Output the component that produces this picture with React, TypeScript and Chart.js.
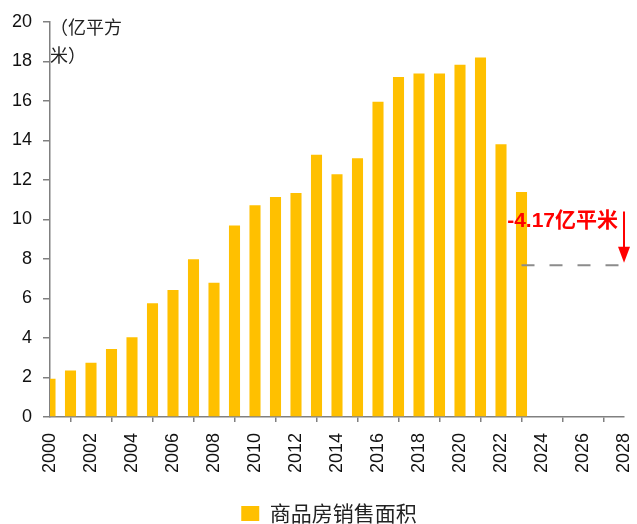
import React, { useEffect, useRef } from "react";
import { Chart, registerables } from "chart.js";

Chart.register(...registerables);

// ---- data ----
const years: string[] = [
  "2000", "2001", "2002", "2003", "2004", "2005", "2006", "2007", "2008", "2009",
  "2010", "2011", "2012", "2013", "2014", "2015", "2016", "2017", "2018", "2019",
  "2020", "2021", "2022", "2023", "2024", "2025", "2026", "2027", "2028",
];
const salesArea: (number | null)[] = [
  1.93, 2.35, 2.74, 3.44, 4.03, 5.76, 6.43, 7.98, 6.8, 9.69,
  10.71, 11.13, 11.34, 13.27, 12.29, 13.1, 15.95, 17.21, 17.38, 17.38,
  17.83, 18.19, 13.8, 11.39, null, null, null, null, null,
];
const forecastLevel: (number | null)[] = [
  null, null, null, null, null, null, null, null, null, null,
  null, null, null, null, null, null, null, null, null, null,
  null, null, null, 7.68, 7.68, 7.68, 7.68, 7.68, 7.68,
];
const seriesLabel = "商品房销售面积";
const unitLines = ["（亿平方", "米）"];
const annotationText = "-4.17亿平米";
const annotationValue = 9.9;
const arrowYear = "2028";
const arrowFrom = 10.4;
const arrowTo = 7.8;
const yMin = 0;
const yMax = 20;
const yStep = 2;

const CJK = '"Noto Sans CJK SC", "Noto Sans", sans-serif';
const LATIN = '"Liberation Sans", Arial, sans-serif';

const overlayPlugin = {
  id: "overlay",
  afterLayout(chart: any) {
    const lg = chart.legend;
    if (lg) {
      lg.left += 17;
      lg.right += 17;
    }
  },
  afterDatasetsDraw(chart: any) {
    const { ctx, scales } = chart;
    const x = scales.x;
    const y = scales.y;
    ctx.save();
    // unit label
    ctx.fillStyle = "#222";
    ctx.font = `18px ${CJK}`;
    ctx.textAlign = "left";
    ctx.textBaseline = "middle";
    ctx.fillText(unitLines[0], x.left, 27);
    ctx.fillText(unitLines[1], x.left, 55);

    // annotation arrow
    const ax = x.getPixelForValue(years.indexOf(arrowYear));
    const y1 = y.getPixelForValue(arrowFrom);
    const y2 = y.getPixelForValue(arrowTo);
    ctx.strokeStyle = "#FF0000";
    ctx.fillStyle = "#FF0000";
    ctx.lineWidth = 2;
    ctx.beginPath();
    ctx.moveTo(ax, y1);
    ctx.lineTo(ax, y2 - 14);
    ctx.stroke();
    ctx.beginPath();
    ctx.moveTo(ax - 6, y2 - 16);
    ctx.lineTo(ax + 6, y2 - 16);
    ctx.lineTo(ax, y2);
    ctx.closePath();
    ctx.fill();

    // annotation text
    ctx.font = `bold 21px "Liberation Sans", Arial, ${CJK}`;
    ctx.textAlign = "right";
    ctx.textBaseline = "middle";
    ctx.fillText(annotationText, ax - 6, y.getPixelForValue(annotationValue));
    ctx.restore();
  },
};

export default function App() {
  const canvasRef = useRef<HTMLCanvasElement | null>(null);

  useEffect(() => {
    document.body.style.margin = "0";
    const canvas = canvasRef.current;
    if (!canvas) return;
    const chart = new Chart(canvas, {
      type: "bar",
      data: {
        labels: years,
        datasets: [
          {
            type: "bar",
            label: seriesLabel,
            data: salesArea,
            backgroundColor: "#FFC000",
            borderWidth: 0,
            barPercentage: 0.54,
            categoryPercentage: 1,
            order: 2,
          },
          {
            type: "line",
            label: "forecast",
            data: forecastLevel,
            borderColor: "#8C8C8C",
            borderWidth: 2,
            borderDash: [13, 15],
            pointRadius: 0,
            fill: false,
            spanGaps: false,
            order: 1,
            clip: false as any,
          } as any,
        ],
      },
      options: {
        animation: false,
        responsive: false,
        maintainAspectRatio: false,
        layout: { padding: { top: 20, right: 13, left: 0, bottom: -10 } },
        plugins: {
          legend: {
            position: "bottom",
            labels: {
              filter: (item: any) => item.datasetIndex === 0,
              boxWidth: 18,
              boxHeight: 15,
              color: "#222",
              padding: 6,
              font: { family: CJK, size: 21 },
            },
          },
          tooltip: { enabled: false },
        },
        scales: {
          x: {
            type: "category",
            offset: false,
            grid: {
              drawOnChartArea: false,
              drawTicks: true,
              tickLength: 5,
              color: "#808080",
              lineWidth: 1.5,
            },
            border: { color: "#808080", width: 1.5 },
            ticks: {
              autoSkip: false,
              maxRotation: 90,
              minRotation: 90,
              padding: 11,
              color: "#111",
              font: { family: LATIN, size: 18 },
              callback: (_v: any, i: number) => (i % 2 === 0 ? years[i] : null),
            },
            afterFit: (s: any) => {
              s.height = 80;
              s.paddingLeft = 0;
              s.paddingRight = 0;
            },
          },
          y: {
            min: yMin,
            max: yMax,
            grid: {
              drawOnChartArea: false,
              drawTicks: true,
              tickLength: 7,
              color: "#808080",
              lineWidth: 1.5,
            },
            border: { color: "#808080", width: 1.5 },
            ticks: {
              stepSize: yStep,
              padding: 11,
              color: "#111",
              font: { family: LATIN, size: 18 },
            },
            afterFit: (s: any) => {
              s.width = 50;
            },
          },
        },
      },
      plugins: [overlayPlugin],
    });
    return () => chart.destroy();
  }, []);

  return (
    <div style={{ width: 637, height: 524, background: "#fff" }}>
      <canvas ref={canvasRef} width={637} height={524} style={{ display: "block" }} />
    </div>
  );
}
